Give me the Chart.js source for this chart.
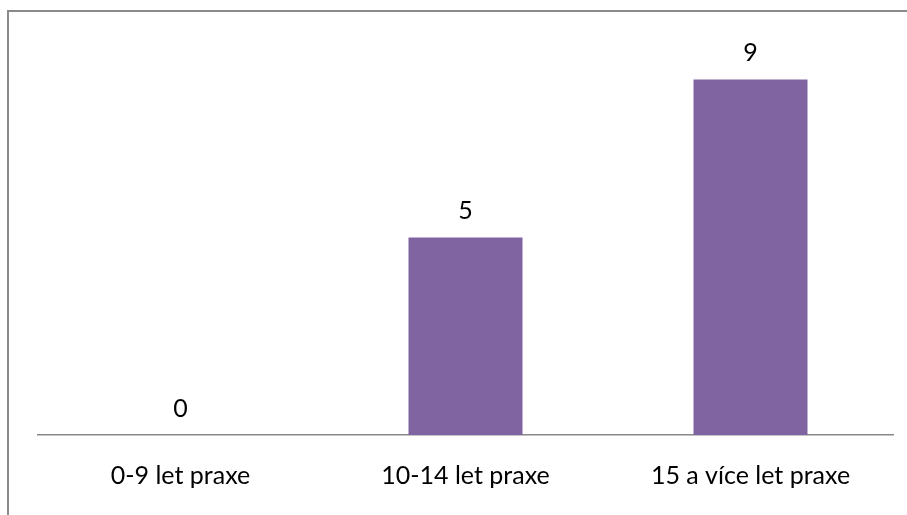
<!DOCTYPE html>
<html lang="cs">
<head>
<meta charset="utf-8">
<title>Délka praxe</title>
<script src="https://cdn.jsdelivr.net/npm/chart.js@4/dist/chart.umd.min.js"></script>
<style>
  html, body { margin: 0; padding: 0; background: #ffffff; }
  #chart { display: block; }
</style>
</head>
<body>
<canvas id="chart" width="907" height="515"></canvas>
<script>
// Kategorie a počty respondentů
const categories = ['0-9 let praxe', '10-14 let praxe', '15 a více let praxe'];
const counts = [0, 5, 9];

const FONT_FAMILY = 'Lato, "DejaVu Sans", sans-serif';
const FONT_SIZE = 25;
const BAR_COLOR = '#8064A2';
const LINE_COLOR = '#888888';

// Rámeček kolem grafu (viditelná levá a horní hrana)
const framePlugin = {
  id: 'frame',
  beforeDraw(chart) {
    const ctx = chart.ctx;
    ctx.save();
    ctx.strokeStyle = '#8a8a8a';
    ctx.lineWidth = 2;
    ctx.beginPath();
    ctx.moveTo(8, chart.height);
    ctx.lineTo(8, 11);
    ctx.lineTo(chart.width, 11);
    ctx.stroke();
    ctx.restore();
  }
};

// Popisky hodnot nad sloupci
const valueLabels = {
  id: 'valueLabels',
  afterDatasetsDraw(chart) {
    const ctx = chart.ctx;
    ctx.save();
    ctx.font = FONT_SIZE + 'px ' + FONT_FAMILY;
    ctx.fillStyle = '#000000';
    ctx.textAlign = 'center';
    ctx.textBaseline = 'alphabetic';
    chart.data.datasets.forEach((ds, di) => {
      chart.getDatasetMeta(di).data.forEach((bar, i) => {
        ctx.fillText(String(ds.data[i]), bar.x, bar.y - 18.5);
      });
    });
    ctx.restore();
  }
};

new Chart(document.getElementById('chart'), {
  type: 'bar',
  data: {
    labels: categories,
    datasets: [{
      data: counts,
      backgroundColor: BAR_COLOR,
      borderWidth: 0,
      barPercentage: 0.4,
      categoryPercentage: 1.0
    }]
  },
  options: {
    responsive: false,
    animation: false,
    devicePixelRatio: 1,
    layout: { padding: { left: 38, right: 14, top: 40, bottom: 0 } },
    plugins: {
      legend: { display: false },
      tooltip: { enabled: false }
    },
    scales: {
      x: {
        grid: { display: false, drawTicks: false },
        border: { display: true, color: LINE_COLOR, width: 1.5 },
        ticks: {
          color: '#000000',
          padding: 26,
          font: { family: FONT_FAMILY, size: FONT_SIZE }
        },
        afterFit(scale) { scale.height = 80; }
      },
      y: {
        display: false,
        min: 0,
        max: 10
      }
    }
  },
  plugins: [framePlugin, valueLabels]
});
</script>
</body>
</html>
